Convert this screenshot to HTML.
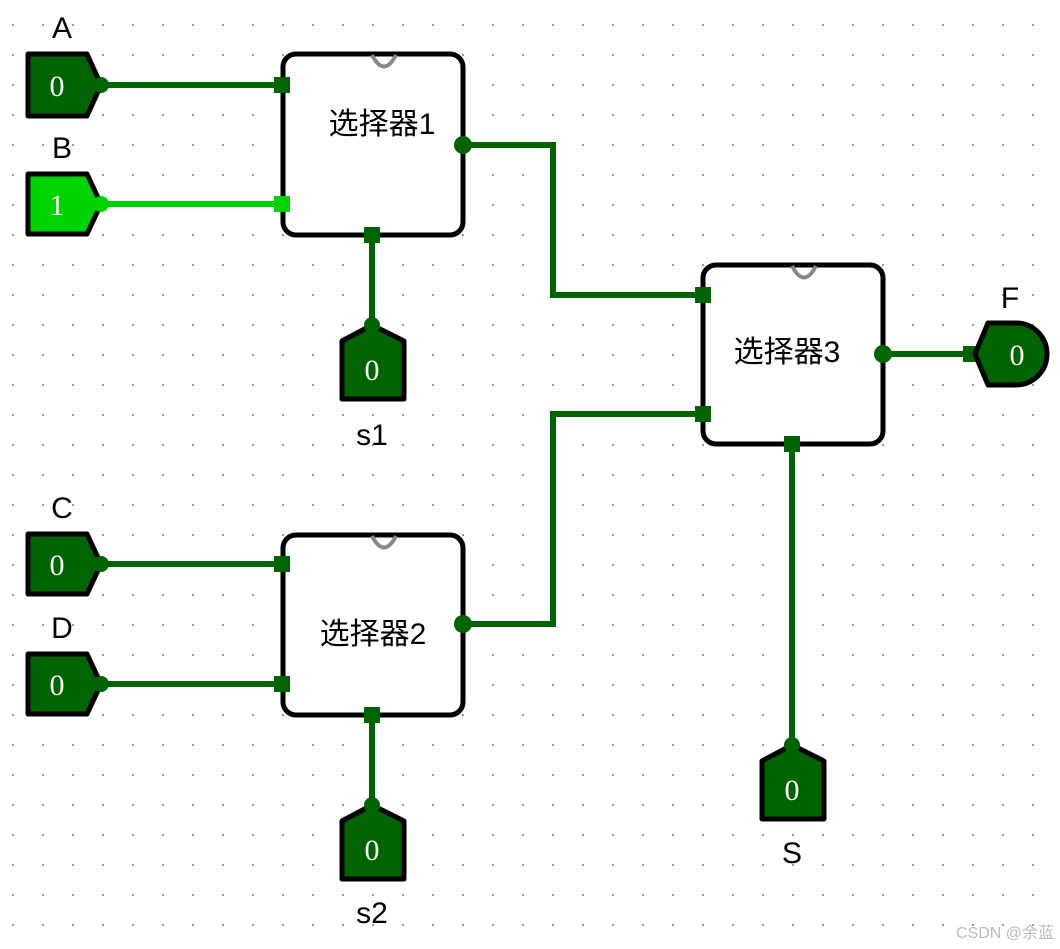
<!DOCTYPE html>
<html><head><meta charset="utf-8"><style>
html,body{margin:0;padding:0;background:#fff}
svg{display:block}
</style></head><body>
<svg width="1060" height="949" xmlns="http://www.w3.org/2000/svg">
<defs>
<pattern id="g" x="0" y="0" width="30" height="30" patternUnits="userSpaceOnUse">
<rect x="12" y="24" width="2" height="2" fill="#999"/>
</pattern>
</defs>
<rect width="1060" height="949" fill="url(#g)"/>

<!-- wires -->
<g stroke="#006400" stroke-width="6" fill="none">
<line x1="100" y1="85" x2="283" y2="85"/>
<line x1="100" y1="564" x2="283" y2="564"/>
<line x1="100" y1="684" x2="283" y2="684"/>
<polyline points="463,145 553,145 553,295 703,295"/>
<polyline points="463,624 553,624 553,414 703,414"/>
<line x1="883" y1="354" x2="975" y2="354"/>
<line x1="372" y1="235" x2="372" y2="325"/>
<line x1="372" y1="715" x2="372" y2="805"/>
<line x1="792" y1="444" x2="792" y2="745"/>
</g>
<line x1="100" y1="204" x2="283" y2="204" stroke="#00d400" stroke-width="6"/>

<!-- muxes -->
<g fill="#fff" stroke="#000" stroke-width="5">
<rect x="283" y="54" width="180" height="181" rx="13"/>
<rect x="283" y="535" width="180" height="180" rx="13"/>
<rect x="703" y="265" width="180" height="179" rx="13"/>
</g>
<g fill="none" stroke="#888" stroke-width="4">
<path d="M372,55 Q384,78 396,55"/>
<path d="M372,536 Q384,559 396,536"/>
<path d="M792,266 Q804,289 816,266"/>
</g>
<g font-family="Liberation Sans, Noto Sans CJK SC, sans-serif" font-size="30" fill="#000" text-anchor="middle">
<text x="382" y="134">选择器1</text>
<text x="373" y="644">选择器2</text>
<text x="787" y="362">选择器3</text>
</g>

<!-- ports -->
<g fill="#006400">
<rect x="274" y="77" width="16" height="16"/>
<rect x="274" y="556" width="16" height="16"/>
<rect x="274" y="676" width="16" height="16"/>
<rect x="695" y="287" width="16" height="16"/>
<rect x="695" y="406" width="16" height="16"/>
<rect x="364" y="227" width="16" height="16"/>
<rect x="364" y="707" width="16" height="16"/>
<rect x="784" y="436" width="16" height="16"/>
<rect x="963" y="346" width="16" height="16"/>
<circle cx="463" cy="145" r="9"/>
<circle cx="463" cy="624" r="9"/>
<circle cx="883" cy="354" r="9"/>
</g>
<rect x="274" y="196" width="16" height="16" fill="#00d400"/>

<!-- inputs -->
<g stroke="#000" stroke-width="5" stroke-linejoin="round">
<path d="M28,54 H87 L101,85 L87,116 H28 Z" fill="#006400"/>
<path d="M28,174 H87 L101,204 L87,234 H28 Z" fill="#00d400"/>
<path d="M28,534 H87 L101,564 L87,594 H28 Z" fill="#006400"/>
<path d="M28,654 H87 L101,684 L87,714 H28 Z" fill="#006400"/>
<path d="M372,325 L404,341 V399 H342 V341 Z" fill="#006400"/>
<path d="M372,805 L404,821 V879 H342 V821 Z" fill="#006400"/>
<path d="M792,745 L824,761 V819 H762 V761 Z" fill="#006400"/>
<path d="M988,323 H1016 A31,31 0 0 1 1016,385 H988 L975,354 Z" fill="#006400"/>
</g>
<g fill="#006400">
<circle cx="101" cy="85" r="8"/>
<circle cx="101" cy="564" r="8"/>
<circle cx="101" cy="684" r="8"/>
<circle cx="372" cy="325" r="8"/>
<circle cx="372" cy="805" r="8"/>
<circle cx="792" cy="745" r="8"/>
</g>
<circle cx="101" cy="204" r="8" fill="#00d400"/>

<g font-family="Liberation Serif, serif" font-size="30" fill="#fff" text-anchor="middle">
<text x="57" y="96">0</text>
<text x="57" y="215">1</text>
<text x="57" y="575">0</text>
<text x="57" y="695">0</text>
<text x="372" y="380">0</text>
<text x="372" y="860">0</text>
<text x="792" y="800">0</text>
<text x="1017" y="365">0</text>
</g>

<g font-family="Liberation Sans, sans-serif" font-size="30" fill="#000" text-anchor="middle">
<text x="62" y="38">A</text>
<text x="62" y="158">B</text>
<text x="62" y="518">C</text>
<text x="62" y="638">D</text>
<text x="1010" y="308">F</text>
<text x="372" y="445">s1</text>
<text x="372" y="923">s2</text>
<text x="792" y="863">S</text>
</g>
<text x="1054" y="938" text-anchor="end" font-family="Liberation Sans, Noto Sans CJK SC, sans-serif" font-size="16" fill="#bbb">CSDN @余蓝</text>
</svg>
</body></html>
